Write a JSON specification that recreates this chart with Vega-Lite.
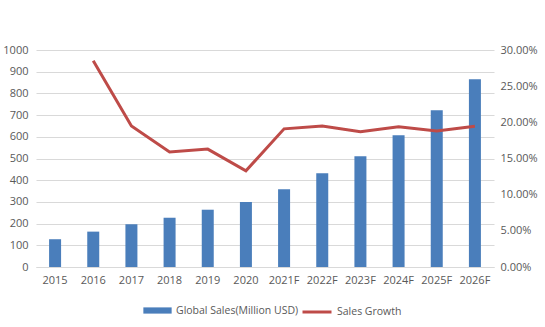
{
  "$schema": "https://vega.github.io/schema/vega-lite/v6.json",
  "width": 458,
  "height": 217,
  "autosize": {"type": "none"},
  "padding": {"left": 36, "top": 50, "right": 51, "bottom": 60},
  "background": "white",
  "config": {
    "view": {"stroke": null},
    "font": "Open Sans",
    "axis": {"labelColor": "#595959", "labelFontSize": 11, "titleColor": "#595959"},
    "legend": {"labelColor": "#595959", "labelFontSize": 10.5}
  },
  "data": {
    "values": [
      {"year": "2015", "sales": 128, "growth": null},
      {"year": "2016", "sales": 163, "growth": 0.285},
      {"year": "2017", "sales": 197, "growth": 0.195},
      {"year": "2018", "sales": 227, "growth": 0.159},
      {"year": "2019", "sales": 264, "growth": 0.163},
      {"year": "2020", "sales": 300, "growth": 0.133},
      {"year": "2021F", "sales": 358, "growth": 0.191},
      {"year": "2022F", "sales": 432, "growth": 0.195},
      {"year": "2023F", "sales": 510, "growth": 0.187},
      {"year": "2024F", "sales": 607, "growth": 0.194},
      {"year": "2025F", "sales": 722, "growth": 0.188},
      {"year": "2026F", "sales": 865, "growth": 0.1945}
    ]
  },
  "encoding": {
    "x": {
      "field": "year",
      "type": "ordinal",
      "sort": null,
      "scale": {"paddingInner": 0.2, "paddingOuter": 0.1},
      "axis": {
        "title": null,
        "labelAngle": 0,
        "ticks": false,
        "domain": true,
        "domainColor": "#d9d9d9",
        "labelPadding": 7,
        "grid": false
      }
    }
  },
  "layer": [
    {
      "mark": {"type": "bar", "size": 12},
      "encoding": {
        "y": {
          "field": "sales",
          "type": "quantitative",
          "scale": {"domain": [0, 1000]},
          "axis": {
            "title": null,
            "format": "d",
            "values": [0, 100, 200, 300, 400, 500, 600, 700, 800, 900, 1000],
            "grid": true,
            "gridColor": "#d9d9d9",
            "domain": false,
            "ticks": false,
            "labelPadding": 8
          }
        },
        "color": {
          "datum": "Global Sales(Million USD)",
          "type": "nominal",
          "scale": {"range": ["#4a7ebb"]},
          "legend": {
            "title": null,
            "orient": "none",
            "legendX": 107,
            "legendY": 246,
            "symbolType": "M-1,-0.22H1V0.22H-1Z",
            "symbolSize": 800,
            "symbolStrokeWidth": 0,
            "labelOffset": 4
          }
        }
      }
    },
    {
      "mark": {"type": "line", "strokeWidth": 3},
      "encoding": {
        "y": {
          "field": "growth",
          "type": "quantitative",
          "scale": {"domain": [0, 0.3]},
          "axis": {
            "title": null,
            "orient": "right",
            "format": ".2%",
            "values": [0, 0.05, 0.1, 0.15, 0.2, 0.25, 0.3],
            "grid": false,
            "domain": false,
            "ticks": false,
            "labelPadding": 6
          }
        },
        "stroke": {
          "datum": "Sales Growth",
          "type": "nominal",
          "scale": {"range": ["#be4b48"]},
          "legend": {
            "title": null,
            "orient": "none",
            "legendX": 265,
            "legendY": 246,
            "symbolType": "stroke",
            "symbolSize": 841,
            "symbolStrokeWidth": 3,
            "labelOffset": 4
          }
        }
      }
    }
  ],
  "resolve": {"scale": {"y": "independent"}}
}
